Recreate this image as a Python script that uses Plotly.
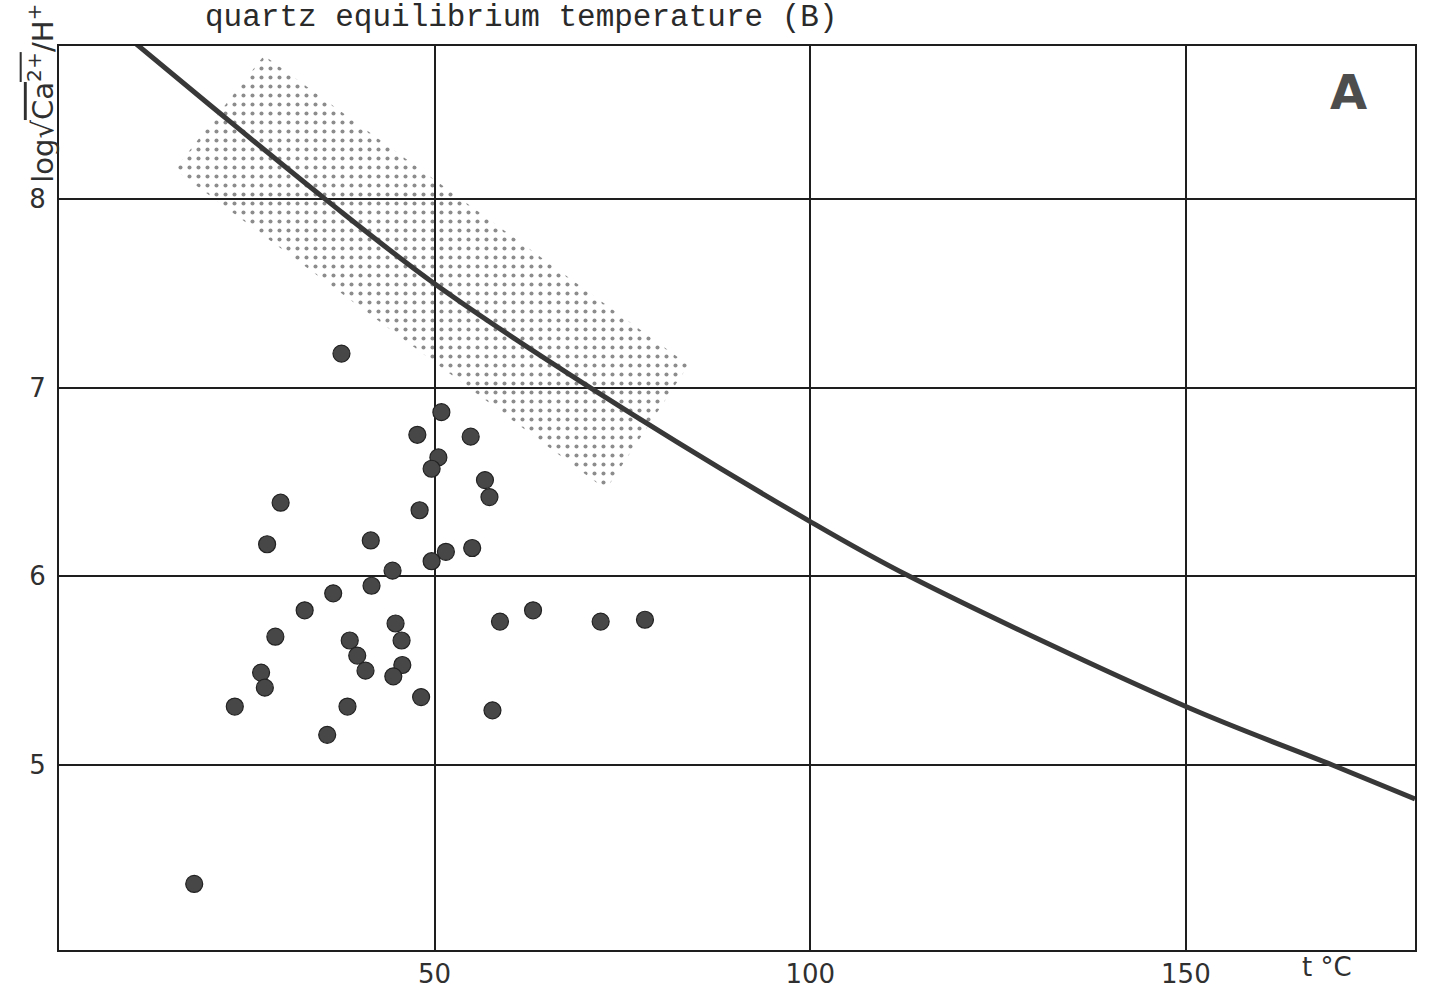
import plotly.graph_objects as go

# Sample points: temperature (°C) and log(sqrt(Ca2+)/H+)
temp_c = [37.6, 50.9, 47.7, 54.8, 50.5, 49.6, 56.7, 57.3, 29.5, 48.0,
          27.7, 41.5, 51.5, 55.0, 49.6, 44.4, 41.6, 36.5, 32.7, 28.8,
          38.7, 44.8, 45.6, 39.7, 40.8, 45.7, 44.5, 26.9, 27.4, 23.4,
          38.4, 35.7, 48.2, 58.7, 63.1, 72.1, 78.0, 57.7, 18.0]
log_ratio = [7.18, 6.87, 6.75, 6.74, 6.63, 6.57, 6.51, 6.42, 6.39, 6.35,
             6.17, 6.19, 6.13, 6.15, 6.08, 6.03, 5.95, 5.91, 5.82, 5.68,
             5.66, 5.75, 5.66, 5.58, 5.50, 5.53, 5.47, 5.49, 5.41, 5.31,
             5.31, 5.16, 5.36, 5.76, 5.82, 5.76, 5.77, 5.29, 4.37]

# Equilibrium curve
curve_t = [10.3, 20.0, 35.4, 50.0, 70.7, 100.0, 113.2, 150.0, 169.5, 180.5]
curve_y = [8.82, 8.50, 8.00, 7.55, 7.00, 6.29, 6.00, 5.31, 5.00, 4.82]

# Stippled band: quartz equilibrium temperature range
band_t = [27.3, 83.8, 72.8, 15.4, 27.3]
band_y = [8.76, 7.12, 6.46, 8.155, 8.76]

x_ticks = [50, 100, 150]
y_ticks = [5, 6, 7, 8]

LABEL_FONT = "DejaVu Sans"
LABEL_COLOR = "#303030"

fig = go.Figure()

fig.add_trace(go.Scatter(
    x=band_t, y=band_y, mode="lines", fill="toself",
    line=dict(width=0, color="rgba(0,0,0,0)"),
    fillcolor="rgba(0,0,0,0)",
    fillpattern=dict(shape=".", fgcolor="#1a1a1a", bgcolor="rgba(0,0,0,0)",
                     size=9, solidity=0.16),
    hoverinfo="skip", showlegend=False,
))

fig.add_trace(go.Scatter(
    x=curve_t, y=curve_y, mode="lines",
    line=dict(color="#383838", width=5, shape="spline", smoothing=1.0),
    showlegend=False,
))

fig.add_trace(go.Scatter(
    x=temp_c, y=log_ratio, mode="markers",
    marker=dict(size=17, color="#474747", line=dict(color="#222222", width=1.2)),
    showlegend=False,
))

axis_common = dict(
    showgrid=True, gridcolor="#1e1e1e", gridwidth=1.6,
    showline=True, linecolor="#1e1e1e", linewidth=2.2, mirror=True,
    zeroline=False, ticks="", automargin=False,
    tickfont=dict(family=LABEL_FONT, size=26, color=LABEL_COLOR),
)

fig.update_xaxes(range=[0, 180.5], tickvals=x_ticks, ticktext=[str(v) for v in x_ticks],
                 ticklabelstandoff=0, **axis_common)
fig.update_yaxes(range=[4.02, 8.81], tickvals=y_ticks, ticktext=[str(v) for v in y_ticks],
                 ticklabelstandoff=6, **axis_common)

fig.add_annotation(
    text="quartz equilibrium temperature (B)",
    xref="paper", yref="paper", x=0.341, y=1.032,
    xanchor="center", yanchor="middle", showarrow=False,
    font=dict(family="Liberation Mono", size=31, color="#2a2a2a"),
)

fig.add_annotation(
    text="log√<span style='text-decoration:overline'>Ca<sup>2+</sup></span>/H<sup>+</sup>",
    xref="paper", yref="paper", x=-0.0135, y=0.948,
    xanchor="center", yanchor="middle", textangle=-90, showarrow=False,
    font=dict(family=LABEL_FONT, size=29, color=LABEL_COLOR),
)

fig.add_annotation(
    text="t °C", xref="x", yref="paper", x=168.8, y=0,
    xanchor="center", yanchor="top", yshift=0, showarrow=False,
    font=dict(family=LABEL_FONT, size=26, color=LABEL_COLOR),
)

fig.add_annotation(
    text="<b>A</b>", xref="paper", yref="paper", x=0.9506, y=0.949,
    xanchor="center", yanchor="middle", showarrow=False,
    font=dict(family=LABEL_FONT, size=48, color="#4d4d4d"),
)

fig.update_layout(
    width=1431, height=991,
    margin=dict(l=59, r=16, t=46, b=41),
    paper_bgcolor="white", plot_bgcolor="white",
    showlegend=False,
)

fig.write_html("out.html")
